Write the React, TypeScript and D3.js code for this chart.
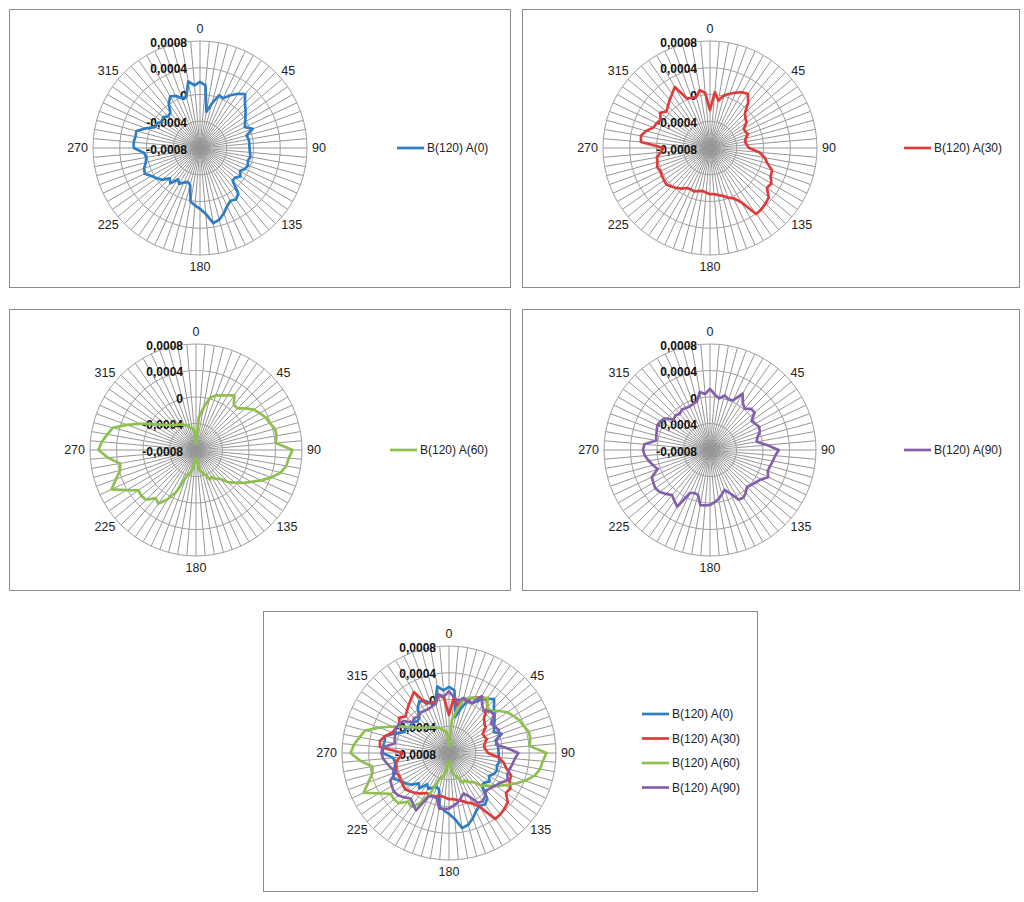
import React from 'react';
import * as d3 from 'd3';

// Categories: angle in degrees (every 5°)
const CATEGORIES = [
  0, 5, 10, 15, 20, 25, 30, 35, 40, 45, 50, 55, 60, 65, 70, 75, 80, 85,
  90, 95, 100, 105, 110, 115, 120, 125, 130, 135, 140, 145, 150, 155, 160, 165, 170, 175,
  180, 185, 190, 195, 200, 205, 210, 215, 220, 225, 230, 235, 240, 245, 250, 255, 260, 265,
  270, 275, 280, 285, 290, 295, 300, 305, 310, 315, 320, 325, 330, 335, 340, 345, 350, 355,
];
const CATEGORY_LABELS = ['0', '45', '90', '135', '180', '225', '270', '315'];
const LABELED_CATEGORIES = [0, 45, 90, 135, 180, 225, 270, 315];

const VALUE_TICKS = [-0.0008, -0.0004, 0, 0.0004, 0.0008];
const VALUE_TICK_LABELS = ['-0,0008', '-0,0004', '0', '0,0004', '0,0008'];

const SERIES_NAMES = ['B(120) A(0)', 'B(120) A(30)', 'B(120) A(60)', 'B(120) A(90)'];
const SERIES_COLORS = ['#2F7DC2', '#DC3C3C', '#8DC04F', '#8460AA'];

const A0 = [
  1.9e-4, 1.4e-4, -2.5e-4, -1.1e-4, 0.4e-4, 0.2e-4, 1.1e-4, 1.9e-4, 2.5e-4, 1.5e-4,
  0.9e-4, 0.3e-4, -0.2e-4, -0.6e-4, 0.4e-4, -0.8e-4, -0.6e-4, -0.6e-4, -0.6e-4, -0.5e-4,
  -0.35e-4, -0.6e-4, -0.35e-4, -0.6e-4, -1.1e-4, -0.6e-4, -1.1e-4, -1.1e-4, 0.9e-4, 1.4e-4,
  1.1e-4, 1.6e-4, 2.4e-4, 3.1e-4, 3.4e-4, 1.9e-4, 1.1e-4, 0.6e-4, 0.15e-4, -2.3e-4,
  -2.6e-4, -2.3e-4, -1.8e-4, -2.3e-4, -1.1e-4, -1.6e-4, -0.6e-4, -0.1e-4, 0.4e-4, 1.1e-4,
  0.9e-4, 0.4e-4, 0.15e-4, 0.4e-4, 1.9e-4, 1.95e-4, 1.8e-4, 1.85e-4, 0.6e-4, -0.6e-4,
  -0.6e-4, -1.1e-4, -0.8e-4, -1.3e-4, -1.1e-4, 0.15e-4, 0.9e-4, 0.6e-4, -0.1e-4, -0.1e-4,
  2.1e-4, 1.4e-4,
];

const A30 = [
  -2.32e-4, 0.4e-4, -0.84e-4, 0.15e-4, 0.64e-4, 1.14e-4, 1.63e-4, 1.88e-4, 0.89e-4, -0.59e-4,
  -1.09e-4, -1.33e-4, -2.17e-4, -2.17e-4, -1.98e-4, -2.47e-4, -2.67e-4, -2.47e-4, -2.17e-4, -0.59e-4,
  0.3e-4, 0.89e-4, 1.88e-4, 2.0e-4, 2.6e-4, 2.4e-4, 3.46e-4, 3.75e-4, 3.95e-4, 4.05e-4,
  1.38e-4, 0.3e-4, -0.1e-4, -0.59e-4, -0.84e-4, -1.09e-4, -1.09e-4, -1.33e-4, -1.48e-4, -1.33e-4,
  -1.09e-4, -1.19e-4, -1.09e-4, -0.59e-4, -0.2e-4, 0.15e-4, 0.49e-4, 0.4e-4, 0.3e-4, 0.2e-4,
  0.4e-4, 0.15e-4, 0.05e-4, -0.59e-4, -1.09e-4, 2.37e-4, 2.47e-4, 1.88e-4, 0.99e-4, 0.79e-4,
  0.49e-4, 1.14e-4, 0.49e-4, 0.89e-4, 1.38e-4, 1.88e-4, 2.52e-4, 0.15e-4, 0.0e-4, -0.1e-4,
  0.79e-4, 0.25e-4,
];

const A60 = [
  -7.0e-4, -3.06e-4, -1.58e-4, 0.15e-4, 0.79e-4, 1.09e-4, 1.53e-4, 2.07e-4, 0.89e-4, 0.89e-4,
  1.78e-4, 2.62e-4, 3.11e-4, 3.6e-4, 3.85e-4, 4.35e-4, 4.35e-4, 4.1e-4, 6.57e-4, 6.07e-4,
  5.83e-4, 5.23e-4, 4.1e-4, 2.86e-4, 1.63e-4, 0.64e-4, -0.35e-4, -1.09e-4, -2.32e-4, -2.67e-4,
  -3.31e-4, -3.06e-4, -4.05e-4, -4.54e-4, -4.84e-4, -6.52e-4, -6.77e-4, -6.52e-4, -5.04e-4, -4.3e-4,
  -3.8e-4, -1.09e-4, 0.64e-4, 1.88e-4, 1.48e-4, 2.62e-4, 2.77e-4, 2.62e-4, 4.1e-4, 6.07e-4,
  4.84e-4, 3.85e-4, 3.65e-4, 5.33e-4, 6.72e-4, 6.27e-4, 5.58e-4, 4.99e-4, 3.11e-4, 1.38e-4,
  -0.1e-4, -1.33e-4, -2.07e-4, -2.67e-4, -3.06e-4, -3.31e-4, -3.56e-4, -3.8e-4, -4.05e-4, -4.44e-4,
  -4.64e-4, -5.04e-4,
];

const A90 = [
  1.23e-4, 0.4e-4, -0.1e-4, 0.54e-4, 0.15e-4, 0.25e-4, 1.83e-4, 0.64e-4, 0.15e-4, 0.79e-4,
  0.79e-4, -0.35e-4, -0.1e-4, 0.2e-4, 0.0e-4, -0.59e-4, -0.84e-4, 0.64e-4, 2.37e-4, 1.88e-4,
  1.63e-4, 1.38e-4, 1.28e-4, 1.68e-4, 0.89e-4, 0.49e-4, 0.15e-4, -0.1e-4, 0.4e-4, 0.79e-4,
  0.64e-4, -0.79e-4, -1.58e-4, -1.09e-4, -0.49e-4, -0.1e-4, 0.3e-4, 0.4e-4, 0.44e-4, -0.99e-4,
  -1.09e-4, -0.84e-4, 1.88e-4, 1.38e-4, 0.89e-4, 1.38e-4, 1.88e-4, 2.07e-4, 1.88e-4, 1.68e-4,
  0.4e-4, 0.89e-4, 1.38e-4, 1.88e-4, 2.12e-4, 1.93e-4, 0.25e-4, 0.4e-4, 0.54e-4, 0.79e-4,
  0.64e-4, 0.35e-4, -0.89e-4, -0.59e-4, -0.89e-4, -0.59e-4, -0.69e-4, -0.74e-4, -0.59e-4, -0.4e-4,
  0.89e-4, 0.49e-4,
];

const SERIES_DATA = [A0, A30, A60, A90];

const FONT = '"Liberation Sans", Arial, sans-serif';
const SPOKE = '#969696';
const RING = '#a0a0a0';

type PanelProps = {
  frame: [number, number, number, number];
  cx: number;
  cy: number;
  R: number;
  series: number[];
  legendX: number;
  legendY: number[];
};

function Radar({ frame, cx, cy, R, series, legendX, legendY }: PanelProps) {
  const angle = d3.scaleLinear().domain([0, 360]).range([0, 2 * Math.PI]);
  const r = d3.scaleLinear().domain([VALUE_TICKS[0], VALUE_TICKS[VALUE_TICKS.length - 1]]).range([0, R]).clamp(true);

  const ringLine = d3
    .lineRadial<number>()
    .angle((d) => angle(d))
    .curve(d3.curveLinearClosed);

  const seriesLine = d3
    .lineRadial<number>()
    .angle((_d, i) => angle(CATEGORIES[i]))
    .radius((d) => r(d))
    .curve(d3.curveLinearClosed);

  const [fx, fy, fw, fh] = frame;

  return (
    <g>
      <rect x={fx + 0.5} y={fy + 0.5} width={fw} height={fh} fill="#fff" stroke="#8a8a8a" strokeWidth={1} />
      <g transform={`translate(${cx},${cy})`}>
        {CATEGORIES.map((c) => {
          const [x, y] = d3.pointRadial(angle(c), R);
          return <line key={'s' + c} x1={0} y1={0} x2={x} y2={y} stroke={SPOKE} strokeWidth={1} />;
        })}
        {VALUE_TICKS.slice(1).map((t) => (
          <path key={'r' + t} d={ringLine.radius(() => r(t))(CATEGORIES) || ''} fill="none" stroke={RING} strokeWidth={1} />
        ))}
        {VALUE_TICKS.map((t, i) => (
          <text
            key={'v' + t}
            x={-13}
            y={-r(t) + 1.5}
            textAnchor="end"
            dominantBaseline="central"
            fontFamily={FONT}
            fontSize={12}
            fontWeight="bold"
            fill="#111"
          >
            {VALUE_TICK_LABELS[i]}
          </text>
        ))}
        {LABELED_CATEGORIES.map((c, i) => {
          const a = angle(c);
          const s = Math.sin(a);
          const co = Math.cos(a);
          const axisH = Math.abs(s) < 0.01;
          const axisV = Math.abs(co) < 0.01;
          const x = s * (R + (axisV ? 5 : 8));
          let y = -co * (axisH ? R + 6 : R - 6) - Math.sign(co) * 6;
          if (axisV) y = 0;
          const anchor = s > 0.01 ? 'start' : s < -0.01 ? 'end' : 'middle';
          return (
            <text
              key={'c' + c}
              x={x}
              y={y}
              textAnchor={anchor}
              dominantBaseline="central"
              fontFamily={FONT}
              fontSize={12.5}
              fill="#222"
            >
              {CATEGORY_LABELS[i]}
            </text>
          );
        })}
        {series.map((si) => (
          <path
            key={'p' + si}
            d={seriesLine(SERIES_DATA[si]) || ''}
            fill="none"
            stroke={SERIES_COLORS[si]}
            strokeWidth={2.7}
            strokeLinejoin="round"
          />
        ))}
      </g>
      {series.map((si, k) => (
        <g key={'l' + si}>
          <line x1={legendX} x2={legendX + 27} y1={legendY[k]} y2={legendY[k]} stroke={SERIES_COLORS[si]} strokeWidth={2.7} />
          <text x={legendX + 30} y={legendY[k]} dominantBaseline="central" fontFamily={FONT} fontSize={12} fill="#222">
            {SERIES_NAMES[si]}
          </text>
        </g>
      ))}
    </g>
  );
}

export default function App() {
  return (
    <svg
      width={1024}
      height={902}
      viewBox="0 0 1024 902"
      style={{ position: 'absolute', left: 0, top: 0, background: '#fff' }}
    >
      <rect x={0} y={0} width={1024} height={902} fill="#fff" />
      <Radar frame={[9, 9, 501, 278]} cx={200} cy={148} R={107} series={[0]} legendX={397} legendY={[148]} />
      <Radar frame={[522, 9, 497, 278]} cx={710} cy={148} R={107} series={[1]} legendX={904} legendY={[148]} />
      <Radar frame={[9, 309, 501, 281]} cx={196} cy={450} R={106} series={[2]} legendX={390} legendY={[450]} />
      <Radar frame={[522, 309, 497, 281]} cx={710} cy={450} R={106} series={[3]} legendX={904} legendY={[450]} />
      <Radar
        frame={[263, 611, 494, 280]}
        cx={449}
        cy={753}
        R={107}
        series={[0, 1, 2, 3]}
        legendX={642}
        legendY={[714, 738.5, 763, 787.5]}
      />
    </svg>
  );
}
